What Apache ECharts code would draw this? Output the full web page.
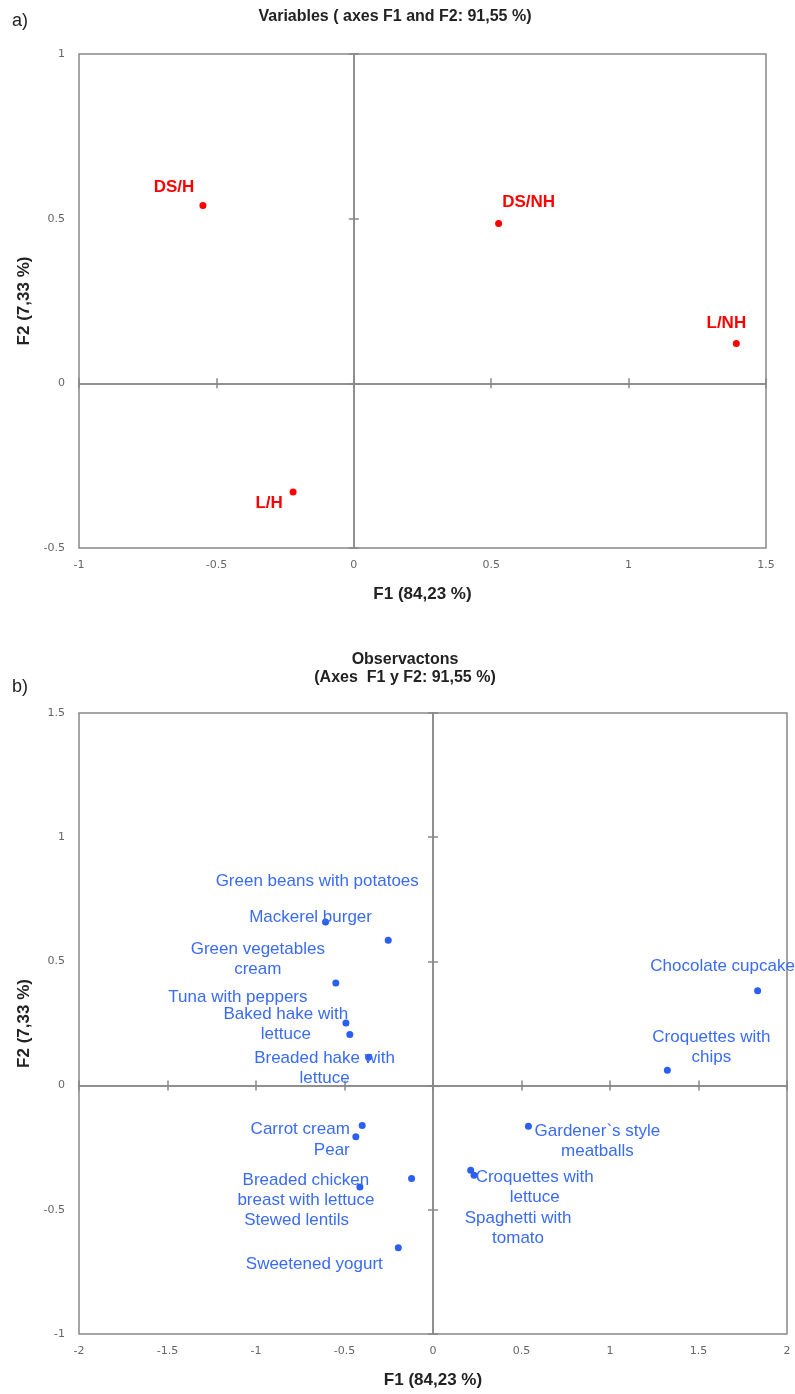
<!DOCTYPE html>
<html>
<head>
<meta charset="utf-8">
<script src="https://cdn.jsdelivr.net/npm/echarts@6/dist/echarts.min.js"></script>
<style>
  html, body { margin: 0; padding: 0; background: #fff; }
  #chart { width: 795px; height: 1394px; }
</style>
</head>
<body>
<div id="chart"></div>
<script>
// ---- PCA results: variables (loadings) ----
const varNames = ['DS/H', 'DS/NH', 'L/NH', 'L/H'];
const varF1 = [-0.549, 0.527, 1.392, -0.221];
const varF2 = [0.540, 0.485, 0.121, -0.330];

// ---- PCA results: observations (scores) ----
const obsNames = [
  'Green beans with potatoes', 'Mackerel burger', 'Green vegetables\ncream',
  'Tuna with peppers', 'Baked hake with\nlettuce', 'Breaded hake with\nlettuce',
  'Carrot cream', 'Pear', 'Breaded chicken\nbreast with lettuce', 'Stewed lentils',
  'Sweetened yogurt', 'Chocolate cupcake', 'Croquettes with\nchips',
  'Gardener`s style\nmeatballs', 'Croquettes with\nlettuce', 'Spaghetti with\ntomato'
];
const obsF1 = [-0.253, -0.607, -0.549, -0.492, -0.470, -0.364, -0.400, -0.436,
               -0.413, -0.121, -0.196, 1.834, 1.324, 0.539, 0.213, 0.232];
const obsF2 = [0.585, 0.659, 0.413, 0.252, 0.206, 0.114, -0.161, -0.206,
               -0.408, -0.374, -0.653, 0.382, 0.062, -0.164, -0.341, -0.361];

// ---- axis ranges / tick step ----
const axisA = { xMin: -1, xMax: 1.5, yMin: -0.5, yMax: 1, step: 0.5 };
const axisB = { xMin: -2, xMax: 2, yMin: -1, yMax: 1.5, step: 0.5 };

// ---- label placement (pixel offsets from each point) ----
const varLabelOffsets = [[-29, -18], [30, -21], [-10, -20], [-24, 11]];
const obsLabelOffsets = [
  [-71, -59], [-15, -5], [-78, -24], [-108, -26], [-64, -10], [-44, 11],
  [-62, 4], [-24, 14], [-54, 3], [-115, 42], [-84, 17], [-35, -24],
  [44, -23], [69, 15], [64, 17], [44, 53]
];

const GREY = '#888888';
const TICK_FONT = 'DejaVu Sans, Liberation Sans, sans-serif';
const TEXT_FONT = 'Liberation Sans, Arial, sans-serif';

const rectA = { left: 79, top: 54, width: 687, height: 494 };
const rectB = { left: 79, top: 713, width: 708, height: 621 };

const grids = [];
const xAxes = [];
const yAxes = [];

// one chart panel = a labelled framed grid + two overlay grids drawing the zero lines
function addPanel(rect, ax, nameGapX, nameGapY) {
  const base = grids.length;
  for (let k = 0; k < 3; k++) {
    grids.push(Object.assign({
      show: k === 0,
      borderColor: GREY,
      borderWidth: 1.5,
      backgroundColor: 'transparent',
      outerBoundsMode: 'none',
      containLabel: false
    }, rect));
  }
  // labelled axes on the frame
  xAxes.push({
    gridIndex: base, type: 'value', min: ax.xMin, max: ax.xMax, interval: ax.step,
    axisLine: { show: false, onZero: false }, axisTick: { show: false }, splitLine: { show: false },
    axisLabel: { color: '#666', fontFamily: TICK_FONT, fontSize: 11, margin: 12 },
    name: 'F1 (84,23 %)', nameLocation: 'middle', nameGap: nameGapX,
    nameTextStyle: { color: '#222', fontFamily: TEXT_FONT, fontSize: 17, fontWeight: 'bold' }
  });
  yAxes.push({
    gridIndex: base, type: 'value', min: ax.yMin, max: ax.yMax, interval: ax.step,
    axisLine: { show: false, onZero: false }, axisTick: { show: false }, splitLine: { show: false },
    axisLabel: { color: '#666', fontFamily: TICK_FONT, fontSize: 11, margin: 14 },
    name: 'F2 (7,33 %)', nameLocation: 'middle', nameGap: nameGapY, nameRotate: 90,
    nameTextStyle: { color: '#222', fontFamily: TEXT_FONT, fontSize: 17, fontWeight: 'bold' }
  });
  // zero lines with ticks on both sides
  [true, false].forEach((inside, i) => {
    const g = base + 1 + i;
    xAxes.push({
      gridIndex: g, type: 'value', min: ax.xMin, max: ax.xMax, interval: ax.step,
      axisLine: { show: true, onZero: true, lineStyle: { color: GREY, width: 1.5 } },
      axisTick: { show: true, inside: inside, length: 5, lineStyle: { color: GREY, width: 1.5 } },
      axisLabel: { show: false }, splitLine: { show: false }
    });
    yAxes.push({
      gridIndex: g, type: 'value', min: ax.yMin, max: ax.yMax, interval: ax.step,
      axisLine: { show: true, onZero: true, lineStyle: { color: GREY, width: 1.5 } },
      axisTick: { show: true, inside: inside, length: 5, lineStyle: { color: GREY, width: 1.5 } },
      axisLabel: { show: false }, splitLine: { show: false }
    });
  });
  return base;
}

const panelA = addPanel(rectA, axisA, 38, 45);
const panelB = addPanel(rectB, axisB, 38, 45);

const varData = varNames.map((n, i) => ({
  name: n, value: [varF1[i], varF2[i]],
  label: { offset: varLabelOffsets[i] }
}));
const obsData = obsNames.map((n, i) => ({
  name: n, value: [obsF1[i], obsF2[i]],
  label: { offset: obsLabelOffsets[i] }
}));

const chart = echarts.init(document.getElementById('chart'), null, { renderer: 'canvas' });
chart.setOption({
  animation: false,
  backgroundColor: '#fff',
  grid: grids,
  xAxis: xAxes,
  yAxis: yAxes,
  graphic: [
    { type: 'text', left: 12, top: 12, style: { text: 'a)', font: '18px ' + TEXT_FONT, fill: '#222' } },
    { type: 'text', x: 395, y: 17, style: { text: 'Variables ( axes F1 and F2: 91,55 %)', align: 'center', verticalAlign: 'middle', font: 'bold 16px ' + TEXT_FONT, fill: '#222' } },
    { type: 'text', left: 12, top: 678, style: { text: 'b)', font: '18px ' + TEXT_FONT, fill: '#222' } },
    { type: 'text', x: 405, y: 660, style: { text: 'Observactons', align: 'center', verticalAlign: 'middle', font: 'bold 16px ' + TEXT_FONT, fill: '#222' } },
    { type: 'text', x: 405, y: 678, style: { text: '(Axes  F1 y F2: 91,55 %)', align: 'center', verticalAlign: 'middle', font: 'bold 16px ' + TEXT_FONT, fill: '#222' } }
  ],
  series: [
    {
      name: 'Variables', type: 'scatter',
      xAxisIndex: panelA, yAxisIndex: panelA,
      symbol: 'circle', symbolSize: 7,
      itemStyle: { color: '#ff0000', opacity: 1 },
      label: {
        show: true, position: 'inside', formatter: '{b}',
        align: 'center', verticalAlign: 'middle',
        color: '#ff0000', fontFamily: TEXT_FONT, fontSize: 17, fontWeight: 'bold'
      },
      data: varData
    },
    {
      name: 'Observations', type: 'scatter',
      xAxisIndex: panelB, yAxisIndex: panelB,
      symbol: 'circle', symbolSize: 7,
      itemStyle: { color: '#2a5ff2', opacity: 1 },
      label: {
        show: true, position: 'inside', formatter: '{b}',
        align: 'center', verticalAlign: 'middle', lineHeight: 20,
        color: '#3a6bf3', fontFamily: TEXT_FONT, fontSize: 17
      },
      data: obsData
    }
  ]
});
</script>
</body>
</html>
